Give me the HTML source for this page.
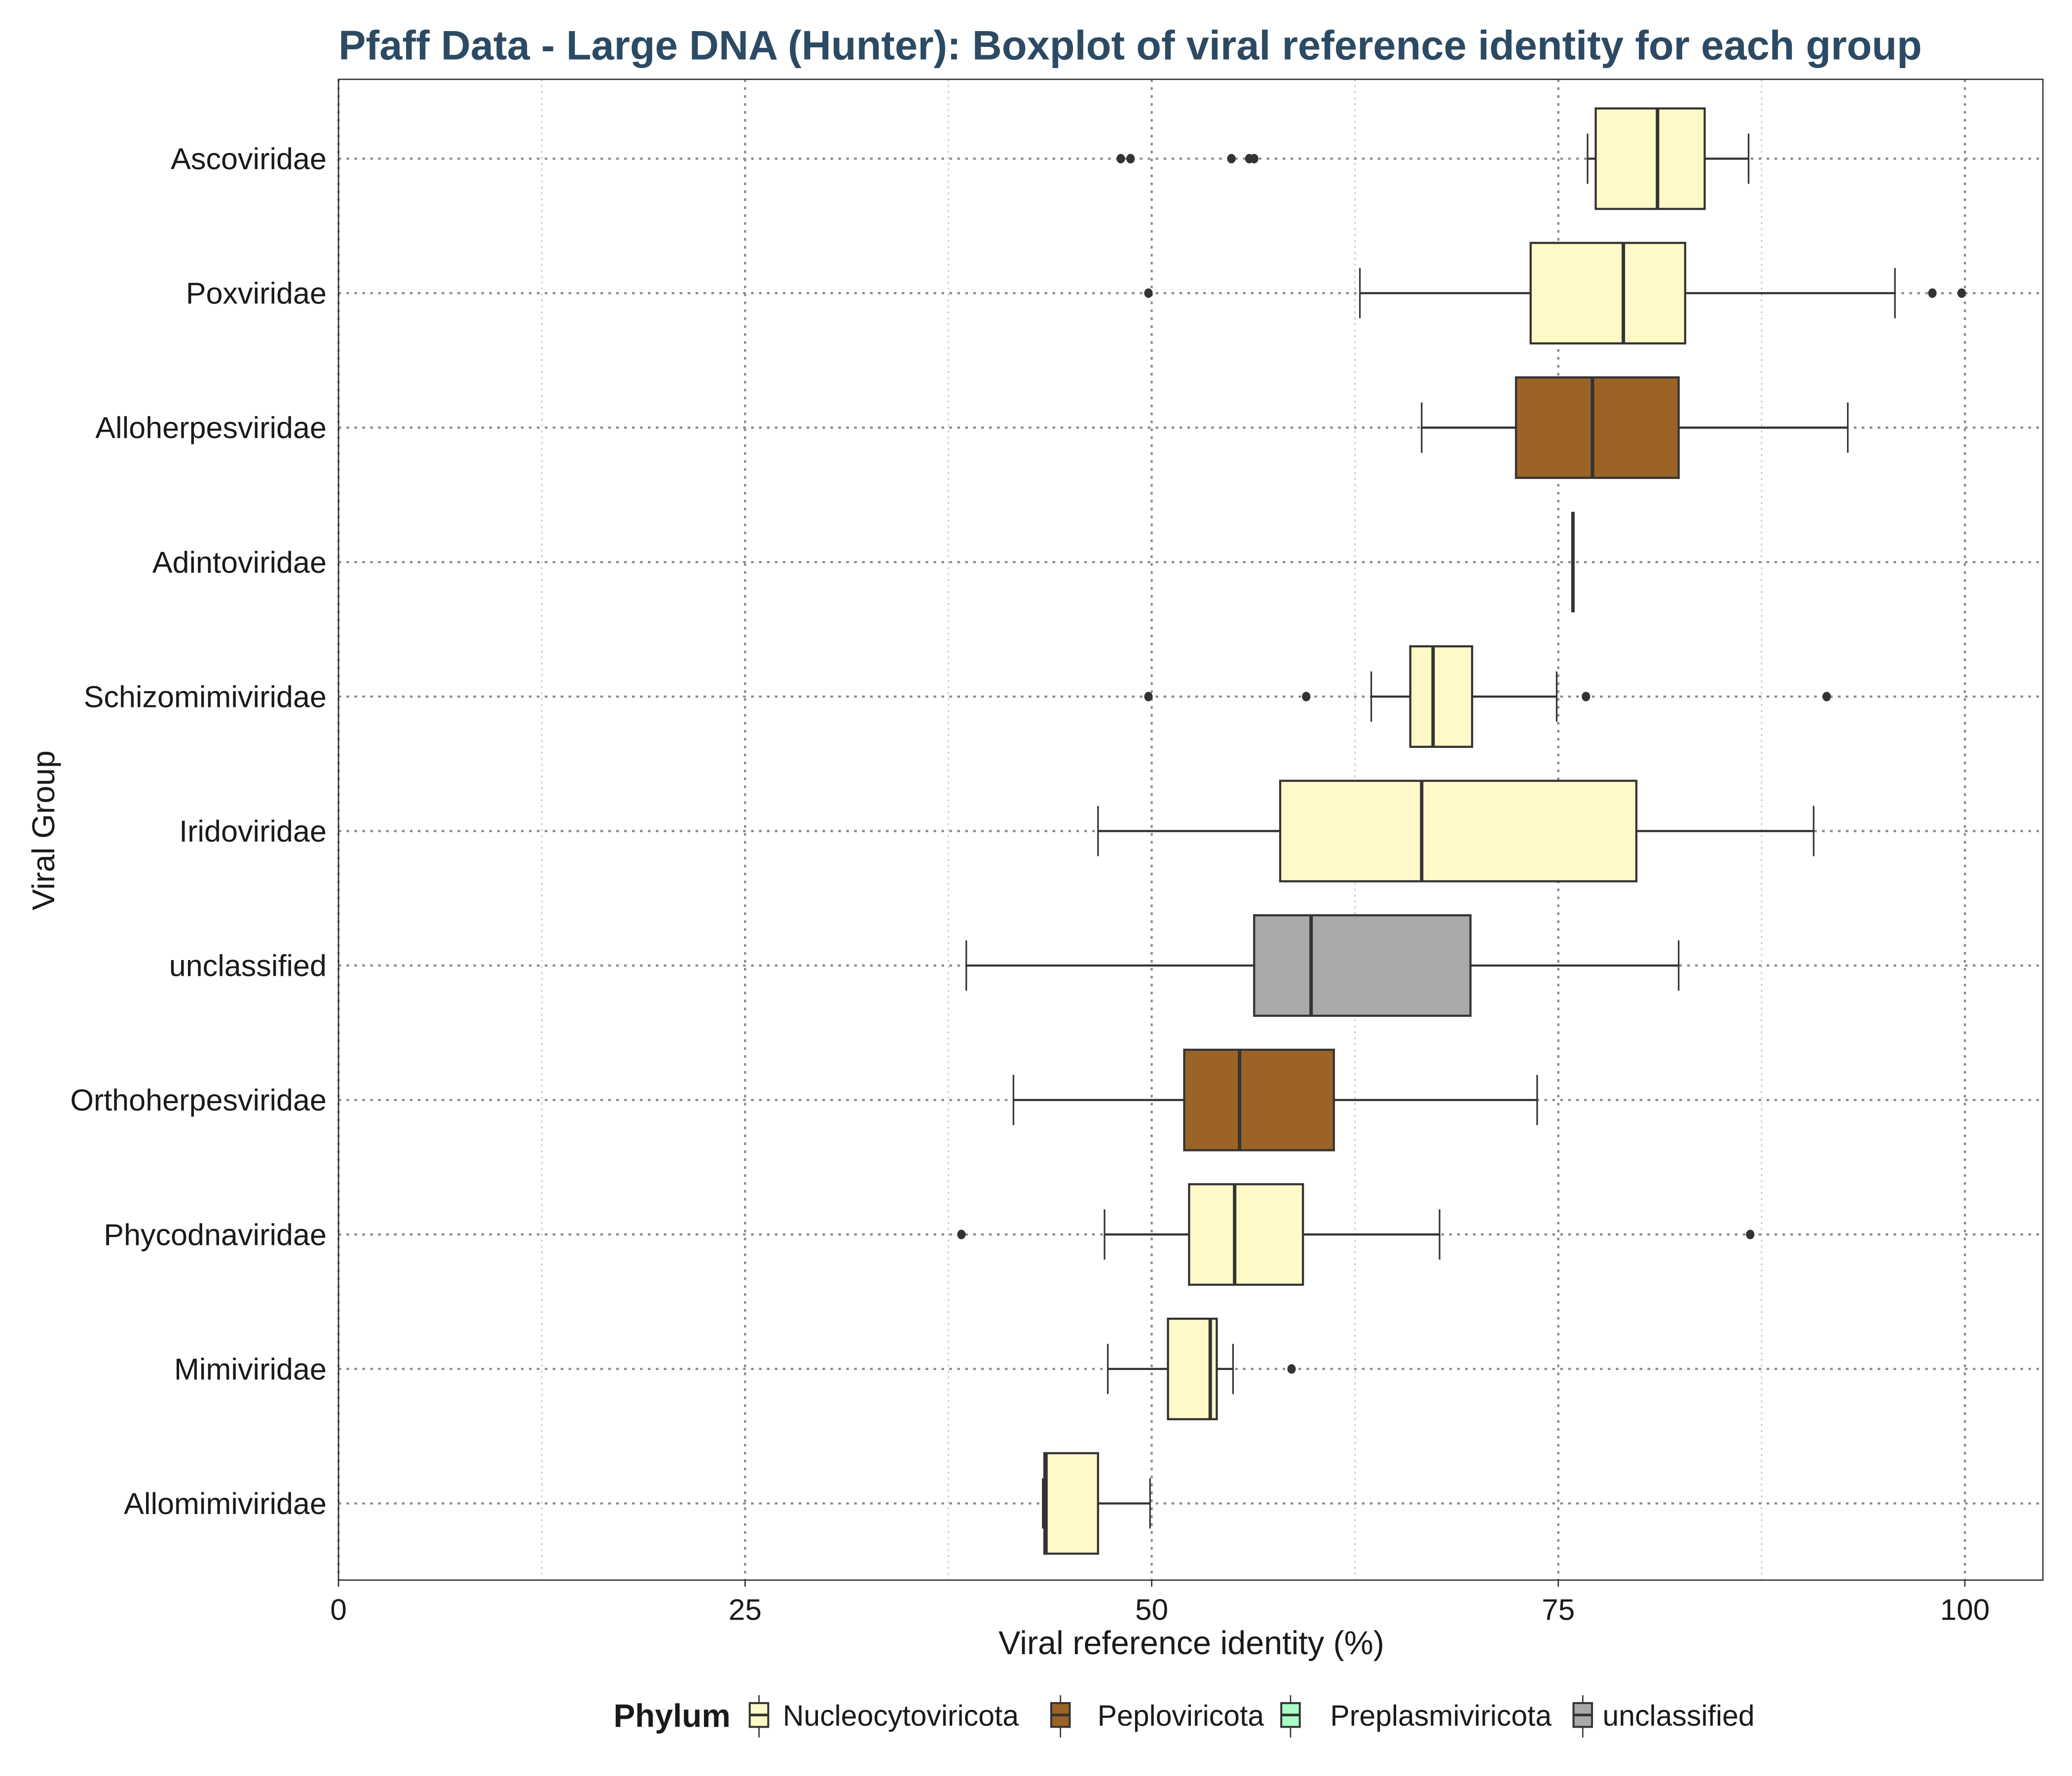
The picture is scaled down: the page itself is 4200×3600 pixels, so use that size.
<!DOCTYPE html>
<html><head><meta charset="utf-8"><style>
html,body{margin:0;padding:0;background:#fff;}
svg{display:block;font-family:"Liberation Sans",sans-serif;}
</style></head><body>
<svg id="chart" width="4200" height="3600" viewBox="0 0 1567 1343.14" xmlns="http://www.w3.org/2000/svg">
<rect x="0" y="0" width="1567" height="1343.14" fill="#fff"/>
<text x="256" y="45" font-size="31" font-weight="bold" fill="#2c4a63">Pfaff Data - Large DNA (Hunter): Boxplot of viral reference identity for each group</text>
<g id="grid"></g>
<g id="boxes"></g>
<rect x="256" y="60" width="1289" height="1135" fill="none" stroke="#333" stroke-width="1"/>
<g id="axes"></g>
<text x="901" y="1251" font-size="24.8" text-anchor="middle" fill="#1a1a1a">Viral reference identity (%)</text>
<text transform="translate(41,628) rotate(-90)" font-size="24" text-anchor="middle" fill="#1a1a1a">Viral Group</text>
<g id="legend"></g>
</svg>
<script>
const categories=["Ascoviridae","Poxviridae","Alloherpesviridae","Adintoviridae","Schizomimiviridae","Iridoviridae","unclassified","Orthoherpesviridae","Phycodnaviridae","Mimiviridae","Allomimiviridae"];
const phylum=["Nucleocytoviricota","Nucleocytoviricota","Peploviricota","Peploviricota","Nucleocytoviricota","Nucleocytoviricota","unclassified","Peploviricota","Nucleocytoviricota","Nucleocytoviricota","Nucleocytoviricota"];
const whiskerLow=[76.8,62.8,66.6,75.9,63.5,46.7,38.6,41.5,47.1,47.3,43.3];
const q1=[77.3,73.3,72.4,75.9,65.9,57.9,56.3,52.0,52.3,51.0,43.4];
const median=[81.1,79.0,77.1,75.9,67.3,66.6,59.8,55.4,55.1,53.6,43.5];
const q3=[84.0,82.8,82.4,75.9,69.7,79.8,69.6,61.2,59.3,54.0,46.7];
const whiskerHigh=[86.7,95.7,92.8,75.9,74.9,90.7,82.4,73.7,67.7,55.0,49.9];
const outliers=[[48.1,48.7,54.9,56.0,56.3],[49.8,98.0,99.8],[],[],[49.8,59.5,76.7,91.5],[],[],[],[38.3,86.8],[58.6],[]];
const xTicks=[0,25,50,75,100];
const xMinor=[12.5,37.5,62.5,87.5];
const legendLabels=["Nucleocytoviricota","Peploviricota","Preplasmiviricota","unclassified"];
const legendColors=["#fff9c8","#9b6326","#a8fcc4","#a9a9a9"];

const NS="http://www.w3.org/2000/svg";
const colorOf={Nucleocytoviricota:"#fff9c8",Peploviricota:"#9b6326",Preplasmiviricota:"#a8fcc4",unclassified:"#a9a9a9"};
const X=v=>256+v*12.3;
const Y=i=>120+i*101.7;
const BH=76;
function mk(tag,attrs,parent){const e=document.createElementNS(NS,tag);for(const k in attrs)e.setAttribute(k,attrs[k]);parent.appendChild(e);return e;}
const grid=document.getElementById('grid'),boxes=document.getElementById('boxes'),axes=document.getElementById('axes'),legend=document.getElementById('legend');
xMinor.forEach(v=>{const l=mk('line',{x1:X(v),x2:X(v),y1:60,y2:1195,stroke:'#c8c8c8','stroke-width':1,'stroke-dasharray':'1.5,3'},grid);

});
xTicks.forEach(v=>{const l=mk('line',{x1:X(v),x2:X(v),y1:60,y2:1195,stroke:'#888','stroke-width':1.6,'stroke-dasharray':'2,4'},grid);


const t=mk('line',{x1:X(v),x2:X(v),y1:1195,y2:1200,stroke:'#333','stroke-width':1},axes);


const tx=mk('text',{x:X(v),y:1225,'font-size':22.5,'text-anchor':'middle',fill:'#1a1a1a'},axes);tx.textContent=v;

});
categories.forEach((c,i)=>{const y=Y(i);
const g=mk('line',{x1:256,x2:1545,y1:y,y2:y,stroke:'#888','stroke-width':1.6,'stroke-dasharray':'2,4'},grid);


const lab=mk('text',{x:247,y:y+8,'font-size':22.8,'text-anchor':'end',fill:'#1a1a1a'},axes);lab.textContent=c;


const grp=mk('g',{},boxes);


const s={stroke:'#333','stroke-width':1.6};
mk('line',Object.assign({x1:X(whiskerLow[i]),x2:X(q1[i]),y1:y,y2:y},s),grp);
mk('line',Object.assign({x1:X(q3[i]),x2:X(whiskerHigh[i]),y1:y,y2:y},s),grp);
mk('line',{x1:X(whiskerLow[i]),x2:X(whiskerLow[i]),y1:y-19,y2:y+19,stroke:'#333','stroke-width':1.2},grp);
mk('line',{x1:X(whiskerHigh[i]),x2:X(whiskerHigh[i]),y1:y-19,y2:y+19,stroke:'#333','stroke-width':1.2},grp);
mk('rect',{x:X(q1[i]),y:y-BH/2,width:Math.max(X(q3[i])-X(q1[i]),0),height:BH,fill:colorOf[phylum[i]],stroke:'#333','stroke-width':1.6},grp);
mk('line',{x1:X(median[i]),x2:X(median[i]),y1:y-BH/2,y2:y+BH/2,stroke:'#333','stroke-width':2.6},grp);
outliers[i].forEach(o=>{const d=mk('ellipse',{cx:X(o),cy:y,rx:3.2,ry:3.6,fill:'#333'},grp);

});
});
const lt=mk('text',{x:464,y:1306,'font-size':24.5,'font-weight':'bold',fill:'#1a1a1a'},legend);lt.textContent='Phylum';


const lx=[567,795,969,1190];
const tx=[592,830,1006,1212];
legendLabels.forEach((n,i)=>{const g=mk('g',{},legend);


const x=lx[i];
mk('line',{x1:x+7,x2:x+7,y1:1282,y2:1314,stroke:'#333','stroke-width':1},g);
mk('rect',{x:x,y:1288,width:14,height:18,fill:legendColors[i],stroke:'#333','stroke-width':1.5},g);
mk('line',{x1:x,x2:x+14,y1:1297,y2:1297,stroke:'#333','stroke-width':2},g);
const t=mk('text',{x:tx[i],y:1305,'font-size':22,fill:'#1a1a1a'},g);t.textContent=n;});
</script>
</body></html>
